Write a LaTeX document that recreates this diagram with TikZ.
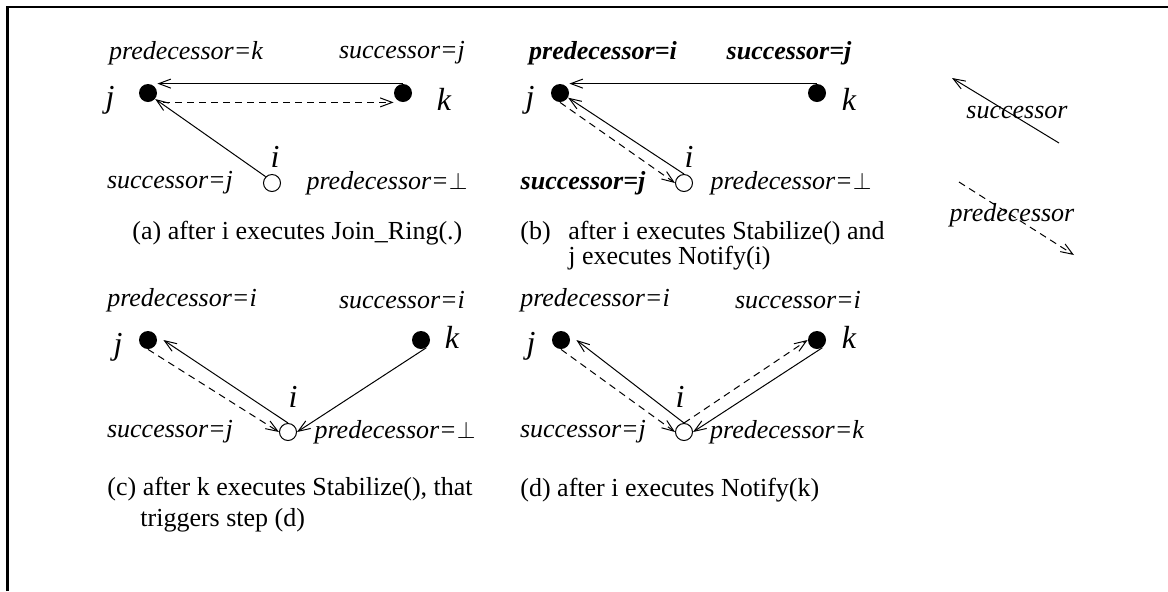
\documentclass[tikz,border=0pt]{standalone}
\usepackage{fontspec}
\setmainfont{Liberation Serif}
\usetikzlibrary{arrows.meta}
\tikzset{
  fulldot/.style={circle, fill=black, inner sep=0pt, minimum size=9pt},
  opendot/.style={circle, draw, fill=white, inner sep=0pt, minimum size=8.5pt, line width=0.5pt},
  succ/.style={line width=0.5pt, -{Straight Barb[length=6pt, width=4.5pt]}},
  pred/.style={succ, dash pattern=on 3.5pt off 2.5pt},
  lab/.style={inner sep=0pt, font=\fontsize{13}{15}\selectfont\itshape},
  blab/.style={inner sep=0pt, font=\fontsize{13}{15}\selectfont\bfseries\itshape},
  letter/.style={inner sep=0pt, font=\fontsize{16}{18}\selectfont\itshape},
  captxt/.style={inner sep=0pt, anchor=west, font=\fontsize{13}{15}\selectfont},
}
\begin{document}
\begin{tikzpicture}[x=0.5pt, y=-0.5pt]
    \useasboundingbox (0,0) rectangle (1168,591);
    % Cadre
    \draw[line width=1.4pt] (7.5,591) -- (7.5,7) -- (1168,7);

    % (a)
    \node[fulldot] (ja) at (148,93) {};
    \node[fulldot] (ka) at (403,93) {};
    \node[opendot] (ia) at (272,183) {};
    \node[letter] (lja) at (110,100) {j};
    \node[letter] (lka) at (444,99) {k};
    \node[letter] (lia) at (275,157) {i};
    \node[lab] (pja) at (186,53) {predecessor=k};
    \node[lab] (ska) at (402,53) {successor=j};
    \node[lab] (sia) at (170,183) {successor=j};
    \node[lab] (pia) at (387,183) {predecessor=$\bot$};
    \node[captxt] (capa) at (132,233) {(a) after i executes Join\_Ring(.)};
    \draw[succ] (ka.north) -- (ka.north -| ja.east);
    \draw[pred] ([xshift=3pt]ja.south -| ja.east) -- (ka.south -| ka.west);
    \draw[succ] (ia.135) -- (ja.-40);

    % (b)
    \node[fulldot] (jb) at (560,93) {};
    \node[fulldot] (kb) at (817,93) {};
    \node[opendot] (ib) at (684,183) {};
    \node[letter] (ljb) at (530,100) {j};
    \node[letter] (lkb) at (849,99) {k};
    \node[letter] (lib) at (689,157) {i};
    \node[blab] (pjb) at (603,53) {predecessor=i};
    \node[blab] (skb) at (789,53) {successor=j};
    \node[blab] (sib) at (583,183) {successor=j};
    \node[lab] (pib) at (791,183) {predecessor=$\bot$};
    \node[captxt] (capb) at (520,233) {(b)};
    \node[captxt] (capb1) at (568,233) {after i executes Stabilize() and};
    \node[captxt] (capb2) at (568,258) {j executes Notify(i)};
    \draw[succ] (kb.north) -- (kb.north -| jb.east);
    \draw[succ] (ib.north) -- (jb.-30);
    \draw[pred] (jb.south) -- (ib.west);

    % (c)
    \node[fulldot] (jc) at (148,340) {};
    \node[fulldot] (kc) at (421,340) {};
    \node[opendot] (ic) at (288,432) {};
    \node[letter] (ljc) at (118,347) {j};
    \node[letter] (lkc) at (452,337) {k};
    \node[letter] (lic) at (293,397) {i};
    \node[lab] (pjc) at (182,300) {predecessor=i};
    \node[lab] (skc) at (402,300) {successor=i};
    \node[lab] (sic) at (170,432) {successor=j};
    \node[lab] (pic) at (395,432) {predecessor=$\bot$};
    \node[captxt] (capc1) at (107,489) {(c) after k executes Stabilize(), that};
    \node[captxt] (capc2) at (140,520) {triggers step (d)};
    \draw[succ] (ic.north) -- ([xshift=3pt]jc.east);
    \draw[pred] (jc.south) -- (ic.west);
    \draw[succ] (kc.-55) -- (ic.east);

    % (d)
    \node[fulldot] (jd) at (561,340) {};
    \node[fulldot] (kd) at (817,340) {};
    \node[opendot] (id) at (684,432) {};
    \node[letter] (ljd) at (531,346) {j};
    \node[letter] (lkd) at (849,337) {k};
    \node[letter] (lid) at (680,397) {i};
    \node[lab] (pjd) at (595,300) {predecessor=i};
    \node[lab] (skd) at (798,300) {successor=i};
    \node[lab] (sid) at (583,432) {successor=j};
    \node[lab] (pid) at (787,432) {predecessor=k};
    \node[captxt] (capd) at (520,490) {(d) after i executes Notify(k)};
    \draw[succ] (id.north) -- ([xshift=3pt]jd.east);
    \draw[pred] (jd.south) -- (id.west);
    \draw[succ] (kd.-55) -- (id.east);
    \draw[pred] (id.north) -- (kd.west);

    % Légende
    \coordinate (sa) at (1059,143);
    \coordinate (sb) at (952,78);
    \coordinate (pa) at (959,182);
    \coordinate (pb) at (1074,255);
    \draw[succ] (sa) -- (sb);
    \draw[pred] (pa) -- (pb);
    \node[lab] (lsucc) at (1017,113) {successor};
    \node[lab] (lpred) at (1012,215) {predecessor};
\end{tikzpicture}
\end{document}
